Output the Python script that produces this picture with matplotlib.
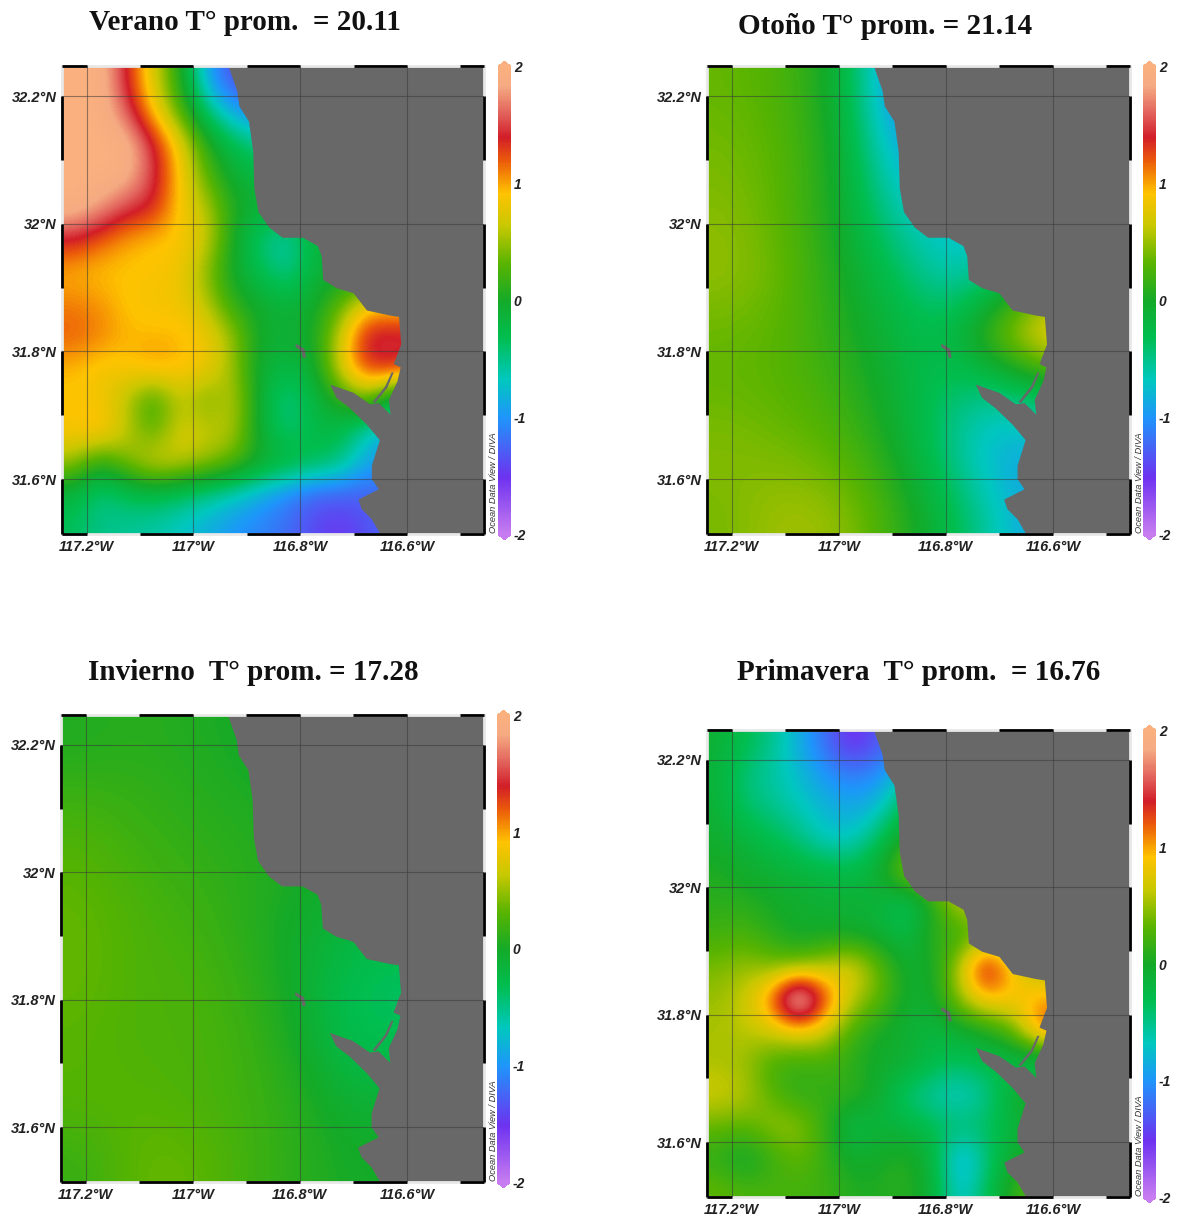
import matplotlib
matplotlib.use('Agg')
import matplotlib.pyplot as plt
from matplotlib.colors import LinearSegmentedColormap, Normalize
from matplotlib.cm import ScalarMappable
import numpy as np

W, H = 1177, 1220

titles = ['Verano T° prom.  = 20.11', 'Otoño T° prom. = 21.14',
          'Invierno  T° prom. = 17.28', 'Primavera  T° prom.  = 16.76']

lon_ticks = [-117.2, -117.0, -116.8, -116.6]
lon_labels = ['117.2°W', '117°W', '116.8°W', '116.6°W']
lat_ticks = [32.2, 32.0, 31.8, 31.6]
lat_labels = ['32.2°N', '32°N', '31.8°N', '31.6°N']
cbar_ticks = [-2, -1, 0, 1, 2]

# anomaly, rows north to south, columns west to east
verano = [
    [2.0, 2.0, 1.4, 0.7, 0.1, -0.9, -1.4, -1.4, -1.4, -1.4, -1.4, -1.4, -1.4, -1.4],
    [2.0, 2.0, 1.6, 0.9, 0.3, -0.4, -0.9, -1.1, -1.1, -1.1, -1.1, -1.1, -1.1, -1.1],
    [2.0, 2.0, 2.0, 1.45, 0.8, 0.1, -0.3, -0.5, -0.5, -0.5, -0.5, -0.5, -0.5, -0.5],
    [2.0, 2.0, 1.95, 1.5, 0.9, 0.3, -0.1, -0.2, -0.2, -0.2, -0.2, -0.2, -0.2, -0.2],
    [2.0, 1.8, 1.5, 1.4, 0.85, 0.6, 0.05, -0.1, -0.1, -0.1, -0.1, -0.1, -0.1, -0.1],
    [1.4, 1.2, 1.0, 0.9, 0.9, 0.7, 0.0, -0.45, -0.65, -0.2, -0.1, -0.1, -0.1, -0.1],
    [0.95, 0.9, 0.9, 0.9, 0.85, 0.45, -0.05, -0.3, -0.55, -0.15, -0.1, -0.1, -0.1, -0.1],
    [1.1, 1.05, 0.9, 0.85, 0.85, 0.6, 0.1, -0.05, -0.15, -0.05, 0.3, 0.8, 0.8, 0.8],
    [1.2, 1.1, 0.95, 0.95, 0.95, 0.85, 0.5, -0.05, -0.1, 0.0, 0.65, 1.5, 1.5, 1.5],
    [0.95, 0.85, 0.9, 1.05, 0.95, 0.85, 0.5, -0.1, -0.2, -0.1, 0.75, 1.35, 1.45, 1.2],
    [0.9, 0.85, 0.6, 0.1, 0.65, 0.35, 0.65, -0.1, -0.55, -0.2, 0.1, 0.45, -0.3, -0.3],
    [0.9, 1.0, 0.65, 0.25, 0.75, 0.65, 0.6, -0.1, -0.45, -0.25, -0.25, -0.7, -0.9, -0.9],
    [0.5, 0.05, 0.4, 0.75, 0.65, 0.5, 0.3, 0.0, -0.15, -0.3, -0.45, -0.9, -1.0, -1.0],
    [-0.2, -0.5, -0.35, -0.3, -0.4, -0.55, -0.7, -0.9, -1.1, -1.3, -1.3, -1.3, -1.2, -1.2],
    [-0.35, -0.5, -0.55, -0.6, -0.7, -0.85, -1.0, -1.1, -1.2, -1.4, -1.5, -1.35, -1.2, -1.2],
]
otono = [
    [0.35, 0.25, -0.05, -1.1, -1.1, -1.0, -1.0],
    [0.4, 0.3, 0.0, -0.85, -0.9, -0.8, -0.8],
    [0.45, 0.3, 0.0, -0.6, -0.8, -0.7, -0.7],
    [0.5, 0.35, 0.05, -0.3, -0.7, -0.6, 0.1],
    [0.35, 0.3, 0.1, -0.15, -0.3, 0.6, 1.2],
    [0.35, 0.3, 0.2, -0.1, -0.4, -0.6, -0.3],
    [0.45, 0.4, 0.3, 0.05, -0.5, -0.9, -0.9],
    [0.4, 0.55, 0.5, 0.2, -0.2, -0.7, -1.0],
]
invierno = [
    [0.05, 0.1, 0.05, 0.0, -0.1, -0.1, -0.1],
    [0.2, 0.15, 0.1, 0.05, 0.0, -0.1, -0.1],
    [0.3, 0.2, 0.15, 0.1, 0.05, -0.05, -0.1],
    [0.35, 0.25, 0.2, 0.1, -0.05, -0.15, -0.2],
    [0.35, 0.25, 0.25, 0.15, -0.05, -0.35, -0.4],
    [0.3, 0.25, 0.25, 0.2, 0.0, -0.35, -0.3],
    [0.3, 0.3, 0.25, 0.2, 0.1, -0.1, -0.1],
    [0.15, 0.35, 0.35, 0.2, 0.1, 0.0, 0.0],
]
primavera = [
    [-0.1, -0.3, -0.5, -0.85, -1.2, -1.6, -1.3, -1.2, -1.2, -1.2, -1.2, -1.2, -1.2, -1.2],
    [-0.15, -0.45, -0.6, -0.75, -1.0, -1.1, -1.05, -0.6, -0.6, -0.6, -0.6, -0.6, -0.6, -0.6],
    [-0.1, -0.4, -0.5, -0.65, -0.8, -0.9, -0.75, -0.25, -0.25, -0.25, -0.25, -0.25, -0.25, -0.25],
    [-0.05, -0.15, -0.3, -0.45, -0.7, -0.7, -0.35, 0.1, 0.4, 0.4, 0.4, 0.4, 0.4, 0.4],
    [0.05, -0.05, -0.1, -0.15, -0.2, -0.25, -0.05, 0.5, 0.7, 0.6, 0.6, 0.6, 0.6, 0.6],
    [0.1, 0.1, 0.0, -0.05, -0.1, -0.1, -0.15, -0.4, 0.0, 0.7, 0.6, 0.6, 0.6, 0.6],
    [0.2, 0.25, 0.1, -0.05, 0.0, -0.05, -0.1, -0.25, 0.15, 0.1, 0.3, 0.3, 0.3, 0.3],
    [0.4, 0.5, 0.4, 0.4, 0.6, 0.8, 0.35, -0.05, -0.05, 0.6, 1.7, 0.85, 0.5, 0.5],
    [0.5, 0.65, 1.2, 2.5, 1.3, 0.6, 0.35, -0.05, -0.05, 0.5, 0.95, 0.9, 1.0, 1.05],
    [0.55, 0.6, 0.7, 0.8, 0.7, 0.2, 0.0, -0.1, -0.2, -0.1, 0.0, 0.3, 1.25, 1.3],
    [0.55, 0.5, 0.2, 0.15, 0.2, 0.1, -0.05, -0.05, -0.25, -0.35, -0.25, -0.3, -0.5, -0.5],
    [0.7, 0.6, 0.3, 0.1, 0.15, 0.15, -0.05, -0.45, -0.6, -0.75, -0.55, -0.05, 0.1, 0.1],
    [0.35, 0.3, 0.5, 0.5, 0.15, -0.3, -0.15, -0.2, -0.3, -0.4, -0.35, -0.2, 0.0, 0.0],
    [0.1, -0.1, 0.15, 0.35, 0.15, -0.05, 0.0, 0.1, -0.15, -0.95, -0.5, 0.0, 0.0, 0.0],
    [0.35, 0.25, 0.25, 0.2, 0.2, 0.05, 0.05, 0.1, -0.1, -0.8, -0.35, 0.15, 0.35, 0.35],
]
seasons = [verano, otono, invierno, primavera]

coast_lon = [-116.934, -116.918, -116.914, -116.896, -116.888, -116.886, -116.878, -116.858,
             -116.833, -116.795, -116.767, -116.760, -116.757, -116.732, -116.700, -116.675,
             -116.631, -116.615, -116.611, -116.625, -116.612, -116.618, -116.634, -116.631,
             -116.653, -116.669, -116.700, -116.744, -116.732, -116.707, -116.675, -116.651,
             -116.666, -116.666, -116.653, -116.691, -116.685, -116.666, -116.650]
coast_lat = [32.246, 32.208, 32.184, 32.160, 32.113, 32.055, 32.018, 31.994,
             31.978, 31.978, 31.965, 31.949, 31.912, 31.899, 31.891, 31.864,
             31.856, 31.854, 31.811, 31.780, 31.775, 31.753, 31.724, 31.701,
             31.719, 31.717, 31.735, 31.748, 31.727, 31.711, 31.685, 31.661,
             31.621, 31.600, 31.584, 31.568, 31.553, 31.537, 31.514]
bar_lon = [-116.625, -116.637, -116.660, -116.664, -116.641, -116.629]
bar_lat = [31.767, 31.743, 31.719, 31.721, 31.745, 31.767]
islet_lon = [-116.808, -116.792, -116.789, -116.795, -116.798, -116.809]
islet_lat = [31.812, 31.804, 31.790, 31.790, 31.801, 31.807]

# map area of each panel in pixels: left, top, right, bottom
boxes = [(62, 66, 484, 534), (707, 66, 1130, 534), (61, 715, 484, 1182), (707, 730, 1130, 1197)]
title_xy = [(89, 23), (738, 26), (88, 673), (737, 672)]

lon_min, lon_max = -117.246, -116.456
lat_min, lat_max = 31.514, 32.247
land_color = '#686868'

cmap = LinearSegmentedColormap.from_list('odv', [
    (0.00, '#c77cf0'), (0.12, '#6e32f0'), (0.25, '#1e96fa'), (0.33, '#00c8be'),
    (0.42, '#00be50'), (0.50, '#14aa28'), (0.58, '#5ab400'), (0.66, '#c8c800'),
    (0.73, '#ffc300'), (0.80, '#eb5a0a'), (0.85, '#d21e28'), (0.90, '#e1605a'),
    (0.96, '#f5aa82'), (1.00, '#fab07f')])
cmap.set_over('#fab07f')
cmap.set_under('#c77cf0')
norm = Normalize(-2, 2)

plt.rcParams['font.family'] = ['Liberation Sans', 'DejaVu Sans']
fig = plt.figure(figsize=(W / 100, H / 100), dpi=100)


def px_axes(left, top, right, bottom):
    return fig.add_axes([left / W, 1 - bottom / H, (right - left) / W, (bottom - top) / H])


def draw_panel(box, grid):
    ax = px_axes(*box)
    ax.imshow(np.array(grid), extent=[-117.25, -116.55, 31.5, 32.25], origin='upper',
              cmap=cmap, norm=norm, interpolation='bicubic', aspect='auto', zorder=1)
    ax.fill(coast_lon + [lon_max, lon_max], coast_lat + [lat_min, lat_max], color=land_color, lw=0, zorder=2)
    ax.fill(bar_lon, bar_lat, color=land_color, lw=0, zorder=2)
    ax.fill(islet_lon, islet_lat, color=land_color, lw=0, zorder=2)
    ax.set_xlim(lon_min, lon_max)
    ax.set_ylim(lat_min, lat_max)
    for x in lon_ticks:
        ax.axvline(x, color='#3a3a3a', lw=0.8, alpha=0.55, zorder=3)
    for y in lat_ticks:
        ax.axhline(y, color='#3a3a3a', lw=0.8, alpha=0.55, zorder=3)
    ax.set_xticks(lon_ticks, lon_labels, fontsize=10.5, fontweight='bold', style='italic', color='#222222')
    ax.set_yticks(lat_ticks, lat_labels, fontsize=10.5, fontweight='bold', style='italic', color='#222222')
    ax.tick_params(length=0, pad=4)
    for s in ax.spines.values():
        s.set_color('#e8e8e8')
        s.set_linewidth(2)

    # alternating black pieces of the frame, every other 0.1 degree
    for x0 in [-117.3, -117.1, -116.9, -116.7, -116.5]:
        a, b = max(x0, lon_min), min(x0 + 0.1, lon_max)
        for y in [lat_min, lat_max]:
            ax.plot([a, b], [y, y], color='black', lw=2, clip_on=False, solid_capstyle='butt', zorder=5)
    for y0 in [32.1, 31.9, 31.7, 31.5]:
        a, b = max(y0, lat_min), min(y0 + 0.1, lat_max)
        for x in [lon_min, lon_max]:
            ax.plot([x, x], [a, b], color='black', lw=2, clip_on=False, solid_capstyle='butt', zorder=5)

    left, top, right, bottom = box
    # the colorbar shrinks its long axis to make room for the end arrows
    cax = px_axes(left + 436, top - 5, left + 449, bottom + 6)
    cb = fig.colorbar(ScalarMappable(norm=norm, cmap=cmap), cax=cax, extend='both',
                      extendfrac=0.012, ticks=cbar_ticks)
    cb.outline.set_visible(False)
    cax.set_yticks(cbar_ticks, [str(t) for t in cbar_ticks], fontsize=10, fontweight='bold', style='italic', color='#222222')
    cax.tick_params(length=0, pad=2)
    fig.text((right + 9) / W, 1 - (bottom - 1) / H, 'Ocean Data View / DIVA', rotation=90,
             fontsize=6.7, style='italic', color='#333333', ha='center', va='bottom')


for box, grid, title, xy in zip(boxes, seasons, titles, title_xy):
    draw_panel(box, grid)
    fig.text(xy[0] / W, 1 - xy[1] / H, title, fontsize=21, fontweight='bold', color='#111111',
             family=['Liberation Serif', 'DejaVu Serif'], ha='left', va='center')

fig.savefig('out.png', dpi=100)
